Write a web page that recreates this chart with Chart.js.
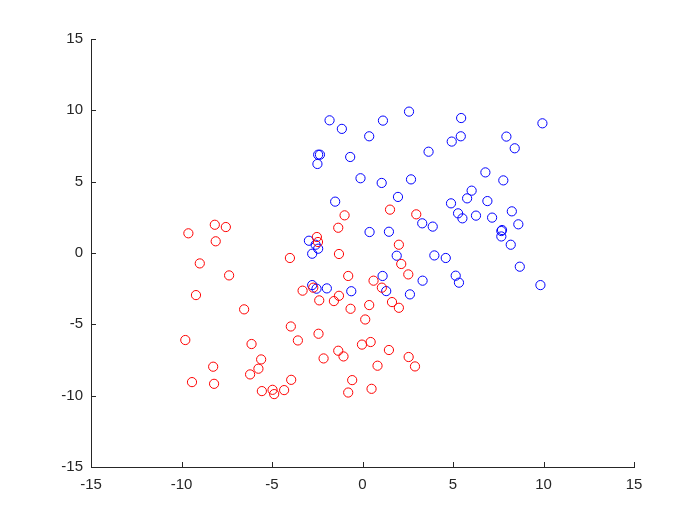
<script src="https://cdn.jsdelivr.net/npm/chart.js"></script>
<style>
    body { margin: 0; background: #fff; }
    #wrap { width: 700px; height: 525px; }
</style>
<div id="wrap"><canvas id="scatterChart" width="700" height="525"></canvas></div>

<script>
    // red group (x, y)
    var redX = [-0.99, -1.34, -9.62, -8.16, -7.55, -8.11, -2.52, -2.46, -1.30, -4.01,
                -8.99, -7.37, -0.79, -9.20, -2.72, -3.31, -2.39, -1.58, -1.30, -0.66,
                -6.54, -3.96, -9.79, -6.13, -3.57, -2.43, -0.03, -1.34, -1.05, -2.15,
                -5.60, -8.25, -5.75, -6.21, -9.42, -8.20, -3.94, -0.57, -5.56, -4.97,
                -4.88, -4.33, -0.79, 1.52, 2.97, 2.01, 2.14, 2.53, 0.61, 1.07,
                1.63, 2.01, 0.37, 0.15, 0.45, 1.46, 2.55, 2.90, 0.83, 0.50];
    var redY = [2.64, 1.77, 1.38, 1.98, 1.82, 0.82, 1.12, 0.77, -0.07, -0.35,
                -0.73, -1.57, -1.61, -2.95, -2.43, -2.64, -3.32, -3.37, -3.00, -3.91,
                -3.95, -5.15, -6.10, -6.38, -6.13, -5.66, -6.42, -6.85, -7.25, -7.39,
                -7.46, -7.97, -8.11, -8.51, -9.05, -9.17, -8.89, -8.91, -9.68, -9.59,
                -9.89, -9.61, -9.78, 3.04, 2.71, 0.58, -0.77, -1.50, -1.94, -2.43,
                -3.44, -3.84, -3.65, -4.66, -6.24, -6.80, -7.29, -7.95, -7.90, -9.52];

    // blue group (x, y)
    var blueX = [-1.82, -1.14, -2.45, -2.35, -2.49, -0.68, -0.11, -1.51, -2.96, -2.59,
                 -2.45, -2.78, -2.78, -2.54, -1.97, -0.62, 2.57, 1.13, 0.37, 5.45,
                 9.94, 5.43, 4.93, 7.95, 8.41, 3.65, 6.79, 7.78, 1.06, 2.68,
                 1.96, 6.03, 5.78, 4.89, 6.90, 8.25, 5.28, 5.52, 6.27, 7.16,
                 8.61, 7.71, 7.67, 7.67, 8.19, 3.30, 3.88, 0.39, 1.46, 1.89,
                 3.97, 4.60, 5.15, 5.33, 3.32, 9.83, 8.69, 1.11, 1.31, 2.62];
    var blueY = [9.30, 8.70, 6.89, 6.89, 6.24, 6.73, 5.24, 3.60, 0.86, 0.58,
                 0.30, -0.05, -2.25, -2.50, -2.48, -2.68, 9.91, 9.28, 8.18, 9.46,
                 9.09, 8.18, 7.81, 8.16, 7.34, 7.10, 5.65, 5.09, 4.91, 5.16,
                 3.93, 4.37, 3.83, 3.48, 3.64, 2.92, 2.78, 2.43, 2.62, 2.48,
                 2.01, 1.61, 1.54, 1.16, 0.58, 2.08, 1.85, 1.47, 1.49, -0.19,
                 -0.17, -0.35, -1.59, -2.08, -1.94, -2.25, -0.96, -1.61, -2.67, -2.90];

    var axisMin = -15;
    var axisMax = 15;
    var tickStep = 5;

    function toPoints(xs, ys) {
        var pts = [];
        for (var i = 0; i < xs.length; i++) {
            pts.push({ x: xs[i], y: ys[i] });
        }
        return pts;
    }

    // MATLAB style ticks pointing into the plot area
    var inwardTicks = {
        id: 'inwardTicks',
        afterDraw: function(chart) {
            var ctx = chart.ctx;
            var area = chart.chartArea;
            var len = 5;
            ctx.save();
            ctx.strokeStyle = '#262626';
            ctx.lineWidth = 1;
            ctx.beginPath();
            chart.scales.x.ticks.forEach(function(t) {
                var px = Math.round(chart.scales.x.getPixelForValue(t.value)) + 0.5;
                ctx.moveTo(px, area.bottom);
                ctx.lineTo(px, area.bottom - len);
            });
            chart.scales.y.ticks.forEach(function(t) {
                var py = Math.round(chart.scales.y.getPixelForValue(t.value)) + 0.5;
                ctx.moveTo(area.left, py);
                ctx.lineTo(area.left + len, py);
            });
            ctx.stroke();
            ctx.restore();
        }
    };

    var tickFont = { family: 'Liberation Sans, Arial, sans-serif', size: 15 };

    var ctx = document.getElementById('scatterChart').getContext('2d');
    window.scatterChart = new Chart(ctx, {
        type: 'scatter',
        data: {
            datasets: [{
                label: 'red',
                data: toPoints(redX, redY),
                borderColor: '#ff0000',
                backgroundColor: 'rgba(0,0,0,0)',
                pointRadius: 4.6,
                pointBorderWidth: 1
            }, {
                label: 'blue',
                data: toPoints(blueX, blueY),
                borderColor: '#0000ff',
                backgroundColor: 'rgba(0,0,0,0)',
                pointRadius: 4.6,
                pointBorderWidth: 1
            }]
        },
        options: {
            responsive: false,
            animation: false,
            layout: {
                padding: { top: 39, right: 66, bottom: 0, left: 0 }
            },
            plugins: {
                legend: { display: false },
                tooltip: { enabled: false }
            },
            scales: {
                x: {
                    min: axisMin,
                    max: axisMax,
                    ticks: { stepSize: tickStep, color: '#262626', font: tickFont, padding: 9, maxRotation: 0 },
                    grid: { drawOnChartArea: false, drawTicks: false },
                    border: { color: '#262626', width: 1 },
                    afterFit: function(scale) { scale.height = 58; }
                },
                y: {
                    min: axisMin,
                    max: axisMax,
                    ticks: { stepSize: tickStep, color: '#262626', font: tickFont, padding: 8 },
                    grid: { drawOnChartArea: false, drawTicks: false },
                    border: { color: '#262626', width: 1 },
                    afterFit: function(scale) { scale.width = 91; }
                }
            }
        },
        plugins: [inwardTicks]
    });
</script>
